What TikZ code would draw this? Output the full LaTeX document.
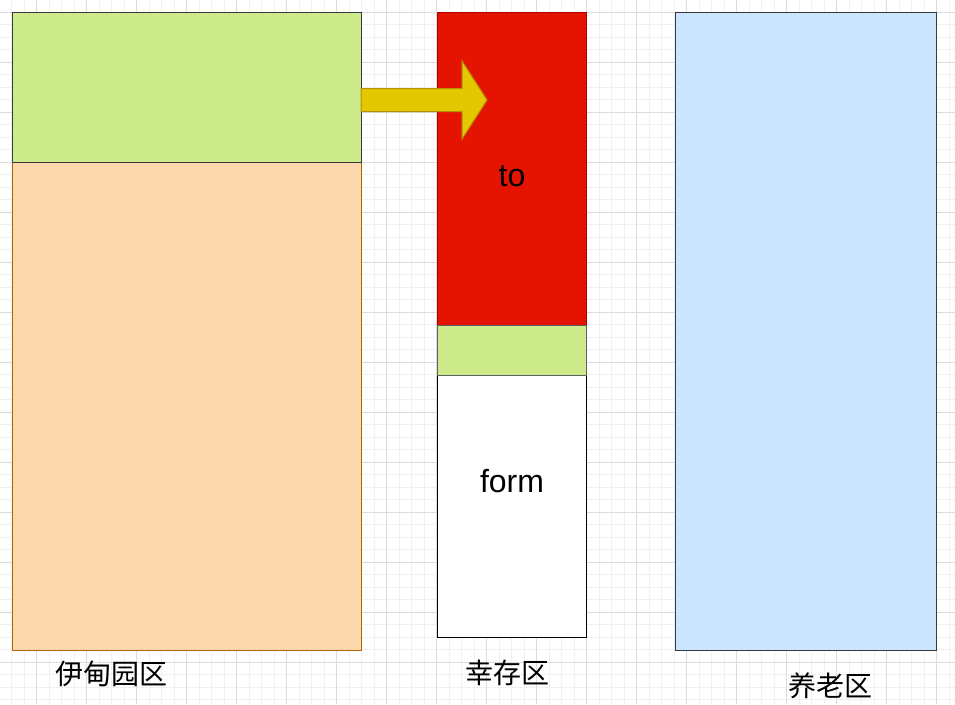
\documentclass[tikz,border=0pt]{standalone}
\usepackage{fontspec}
\usetikzlibrary{calc}
\setmainfont{Liberation Sans}
\newfontfamily\cjk{Noto Sans CJK SC}
\definecolor{gminor}{HTML}{F0F0F0}
\definecolor{gmajor}{HTML}{DCDCDC}
\definecolor{greenF}{HTML}{CDEB8B}
\definecolor{darkS}{HTML}{36393D}
\definecolor{orangeF}{HTML}{FAD7AC}
\definecolor{orangeS}{HTML}{B46504}
\definecolor{blueF}{HTML}{CCE5FF}
\definecolor{redF}{HTML}{E51400}
\definecolor{redS}{HTML}{B20000}
\definecolor{yellowF}{HTML}{E3C800}
\definecolor{yellowS}{HTML}{B09500}
\tikzset{
  box/.style={rectangle, draw, line width=1pt, anchor=north west, inner sep=0pt, outer sep=0pt},
  big/.style={font=\fontsize{32}{36}\selectfont, inner sep=0pt},
  lab/.style={font=\cjk\fontsize{28}{32}\selectfont, inner sep=0pt}
}
\begin{document}
\begin{tikzpicture}[x=1pt,y=-1pt]
\useasboundingbox[fill=white] (0,0) rectangle (955,704);
% grid
\foreach \i in {0,...,76} {\draw[gminor, line width=1pt] (11.5+12.5*\i,0) -- (11.5+12.5*\i,704);}
\foreach \i in {0,...,56} {\draw[gminor, line width=1pt] (0,-0.5+12.5*\i) -- (955,-0.5+12.5*\i);}
\foreach \i in {0,...,18} {\draw[gmajor, line width=1pt] (36.5+50*\i,0) -- (36.5+50*\i,704);}
\foreach \i in {0,...,13} {\draw[gmajor, line width=1pt] (0,12+50*\i) -- (955,12+50*\i);}
% Eden
\node[box, fill=orangeF, draw=orangeS, minimum width=349pt, minimum height=488pt] (edenMain) at (12,162) {};
\node[box, fill=greenF, draw=darkS, minimum width=349pt, minimum height=150pt] (edenTop) at (12,12) {};
% Survivor
\node[box, fill=redF, draw=redS, minimum width=149pt, minimum height=313pt] (toBox) at (437,12) {};
\node[box, fill=white, draw=black, minimum width=149pt, minimum height=262pt] (fromBox) at (437,375) {};
\node[box, fill=greenF, draw=darkS!80, minimum width=149pt, minimum height=50pt] (survGreen) at (437,325) {};
% Old
\node[box, fill=blueF, draw=darkS, minimum width=261pt, minimum height=638pt] (oldBox) at (675,12) {};
% arrow
\coordinate (aS) at (edenTop.north east);
\filldraw[fill=yellowF, draw=yellowS, line width=1pt, line join=miter]
  ($(aS)+(0,76.5)$) -- ++(101,0) -- ++(0,-27.5) -- ++(25,39) -- ++(-25,39) -- ++(0,-27.5) -- ($(aS)+(0,99.5)$) -- cycle;
% texts
\node[big, anchor=base] (toT) at (512,186) {to};
\node[big, anchor=base] (formT) at (512,492) {form};
\node[lab] (l1) at (111,674) {伊甸园区};
\node[lab] (l2) at (507,673) {幸存区};
\node[lab] (l3) at (830,686) {养老区};
\end{tikzpicture}
\end{document}
